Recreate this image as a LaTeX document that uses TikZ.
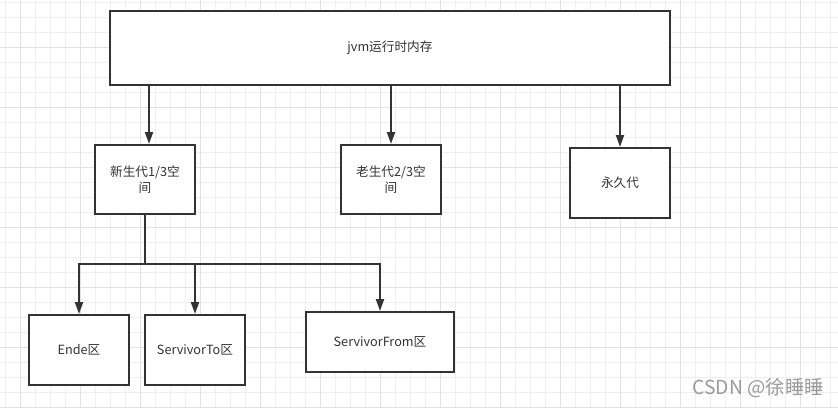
\documentclass[tikz,border=0pt]{standalone}
\usepackage{fontspec}
\setmainfont{Noto Sans CJK SC}
\usetikzlibrary{arrows.meta,calc}

\definecolor{linegray}{HTML}{333333}
\definecolor{minorgrid}{HTML}{EFEFEF}
\definecolor{majorgrid}{HTML}{E2E2E2}
\definecolor{markgray}{HTML}{9A9A9A}

\tikzset{
  membox/.style={draw=linegray, line width=1.5pt, fill=white, text=linegray,
    inner sep=0pt, align=center, font=\fontsize{9.5}{12}\selectfont},
  genarrow/.style={draw=linegray, line width=1.5pt,
    -{Triangle[width=6pt,length=9pt]}},
  genline/.style={draw=linegray, line width=1.5pt}
}

\begin{document}
\begin{tikzpicture}[x=0.75pt, y=-0.75pt]

  \useasboundingbox (0,0) rectangle (838,408);
  \fill[white] (0,0) rectangle (838,408);

  % grid of the drawing canvas
  \foreach \x in {5.7,20.7,...,838} \draw[minorgrid, line width=0.75pt] (\x,0) -- (\x,408);
  \foreach \y in {2.3,17.3,...,408} \draw[minorgrid, line width=0.75pt] (0,\y) -- (838,\y);
  \foreach \x in {20.7,80.7,...,838} \draw[majorgrid, line width=0.75pt] (\x,0) -- (\x,408);
  \foreach \y in {47.3,107.3,...,408} \draw[majorgrid, line width=0.75pt] (0,\y) -- (838,\y);

  % boxes
  \node[membox, minimum width=560*0.75pt, minimum height=74*0.75pt] (jvm) at (390,48) {jvm运行时内存};

  \node[membox, minimum width=100*0.75pt, minimum height=69*0.75pt] (xin) at (145,179.5) {新生代1/3空\\间};
  \node[membox, minimum width=100*0.75pt, minimum height=69*0.75pt] (lao) at (391,179.5) {老生代2/3空\\间};
  \node[membox, minimum width=100*0.75pt, minimum height=70*0.75pt] (yong) at (620,183) {永久代};

  \node[membox, minimum width=100*0.75pt, minimum height=70*0.75pt] (ende) at (79,350) {Ende区};
  \node[membox, minimum width=100*0.75pt, minimum height=70*0.75pt] (to) at (195,350) {ServivorTo区};
  \node[membox, minimum width=148*0.75pt, minimum height=60*0.75pt] (from) at (380,342) {ServivorFrom区};

  % connectors
  \coordinate (xintop) at ($(xin.north)+(4,0)$);
  \draw[genarrow] (jvm.south -| xintop) -- (xintop);
  \draw[genarrow] (jvm.south -| lao.north) -- (lao.north);
  \draw[genarrow] (jvm.south -| yong.north) -- (yong.north);

  \coordinate (fork) at (145,264);
  \draw[genline] (xin.south) -- (fork);
  \draw[genarrow] (fork) -| (ende.north);
  \draw[genarrow] (fork) -| (to.north);
  \draw[genarrow] (fork) -| (from.north);

  % watermark
  \node[anchor=east, text=markgray, font=\fontsize{14.5}{16}\selectfont, inner sep=0pt] (mark) at (824,388) {CSDN @徐睡睡};

\end{tikzpicture}
\end{document}
